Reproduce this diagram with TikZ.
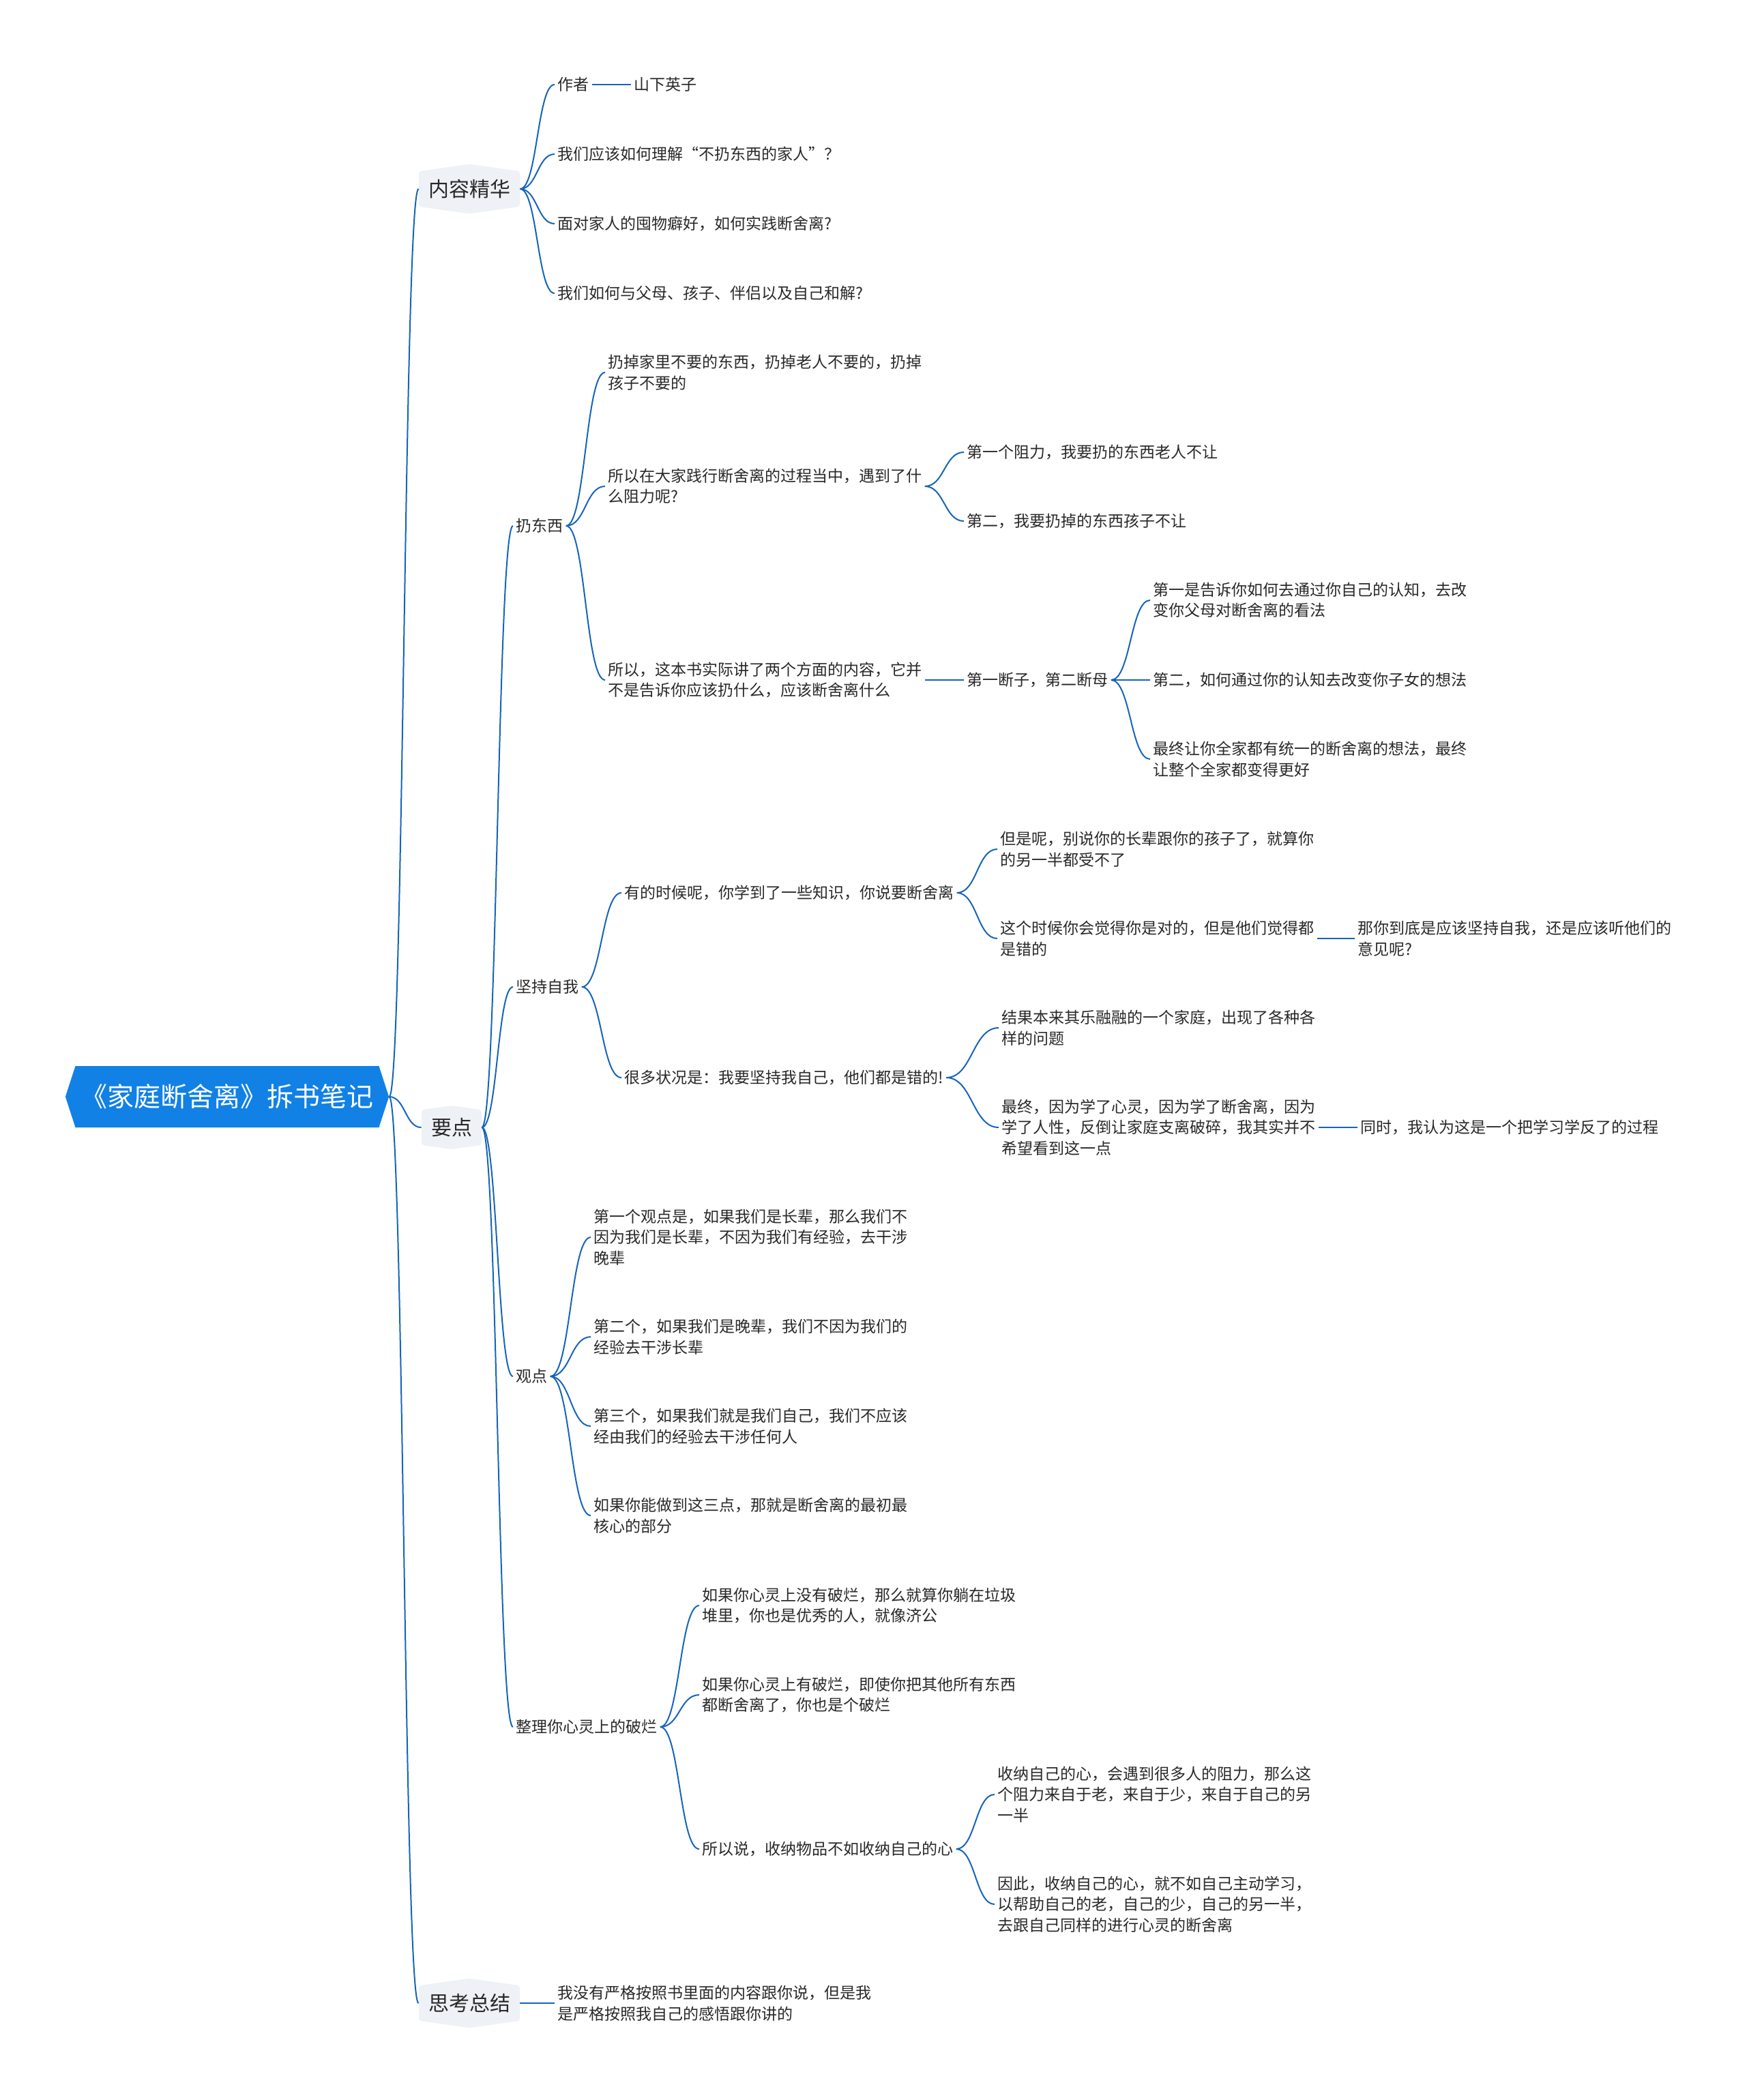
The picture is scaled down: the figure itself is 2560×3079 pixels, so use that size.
\documentclass[tikz,border=0pt]{standalone}
\usepackage{fontspec}
\setmainfont{Noto Sans CJK SC}
\usetikzlibrary{shapes.symbols,calc}

\definecolor{azul}{RGB}{17,129,230}
\definecolor{linea}{RGB}{22,100,185}
\definecolor{gris}{RGB}{238,241,245}
\definecolor{texto}{RGB}{40,40,40}

\tikzset{
  raiz/.style={shape=signal, signal to=west and east, signal pointer angle=144,
    fill=azul, text=white, font=\fontsize{19.5}{23}\selectfont,
    inner xsep=4pt, minimum height=45pt},
  tema/.style={shape=signal, signal to=north and south, signal pointer angle=164,
    fill=gris, text=texto, font=\fontsize{15}{18}\selectfont,
    inner xsep=7pt, inner ysep=6pt, rounded corners=2pt},
  hoja/.style={anchor=west, align=left, text=texto,
    font=\fontsize{11.5}{15.2}\selectfont, inner sep=2pt},
  rama/.style={draw=linea, line width=1pt}
}

\newcommand{\enlace}[2]{%
  \draw[rama] let \p1=(#1.east), \p2=(#2.west) in
    (\p1) .. controls ({0.5*\x1+0.5*\x2},\y1) and ({0.5*\x1+0.5*\x2},\y2) .. (\p2);}

\begin{document}
\begin{tikzpicture}[x=0.5pt,y=-0.5pt]
\useasboundingbox (0,0) rectangle (2560,3079);

% Raiz y temas
\node [raiz] (raiz) at (333,1608) {《家庭断舍离》拆书笔记};
\node [tema] (jh) at (688,277) {内容精华};
\node [tema] (yd) at (662,1653) {要点};
\node [tema] (zj) at (688,2937) {思考总结};

% Contenido
\node [hoja] (zz) at (813,124) {作者};
\node [hoja] (sx) at (925,124) {山下英子};
\node [hoja] (q1) at (813,226) {我们应该如何理解“不扔东西的家人”？};
\node [hoja] (q2) at (813,328) {面对家人的囤物癖好，如何实践断舍离?};
\node [hoja] (q3) at (813,430) {我们如何与父母、孩子、伴侣以及自己和解?};

% Puntos
\node [hoja] (rd) at (752,771) {扔东西};
\node [hoja] (jc) at (752,1447) {坚持自我};
\node [hoja] (gd) at (752,2018) {观点};
\node [hoja] (zl) at (752,2532) {整理你心灵上的破烂};

% Tirar cosas
\node [hoja] (rd1) at (887,546) {扔掉家里不要的东西，扔掉老人不要的，扔掉\\孩子不要的};
\node [hoja] (rd2) at (887,713) {所以在大家践行断舍离的过程当中，遇到了什\\么阻力呢?};
\node [hoja] (rd3) at (887,997) {所以，这本书实际讲了两个方面的内容，它并\\不是告诉你应该扔什么，应该断舍离什么};
\node [hoja] (zu1) at (1413,663) {第一个阻力，我要扔的东西老人不让};
\node [hoja] (zu2) at (1413,764) {第二，我要扔掉的东西孩子不让};
\node [hoja] (dz) at (1413,997) {第一断子，第二断母};
\node [hoja] (dz1) at (1686,880) {第一是告诉你如何去通过你自己的认知，去改\\变你父母对断舍离的看法};
\node [hoja] (dz2) at (1686,997) {第二，如何通过你的认知去改变你子女的想法};
\node [hoja] (dz3) at (1686,1113) {最终让你全家都有统一的断舍离的想法，最终\\让整个全家都变得更好};

% Mantenerse
\node [hoja] (jc1) at (911,1309) {有的时候呢，你学到了一些知识，你说要断舍离};
\node [hoja] (jc2) at (911,1580) {很多状况是：我要坚持我自己，他们都是错的!};
\node [hoja] (jc11) at (1462,1245) {但是呢，别说你的长辈跟你的孩子了，就算你\\的另一半都受不了};
\node [hoja] (jc12) at (1462,1376) {这个时候你会觉得你是对的，但是他们觉得都\\是错的};
\node [hoja] (jc13) at (1986,1376) {那你到底是应该坚持自我，还是应该听他们的\\意见呢?};
\node [hoja] (jc21) at (1464,1507) {结果本来其乐融融的一个家庭，出现了各种各\\样的问题};
\node [hoja] (jc22) at (1464,1653) {最终，因为学了心灵，因为学了断舍离，因为\\学了人性，反倒让家庭支离破碎，我其实并不\\希望看到这一点};
\node [hoja] (jc23) at (1990,1653) {同时，我认为这是一个把学习学反了的过程};

% Opiniones
\node [hoja] (gd1) at (866,1814) {第一个观点是，如果我们是长辈，那么我们不\\因为我们是长辈，不因为我们有经验，去干涉\\晚辈};
\node [hoja] (gd2) at (866,1960) {第二个，如果我们是晚辈，我们不因为我们的\\经验去干涉长辈};
\node [hoja] (gd3) at (866,2091) {第三个，如果我们就是我们自己，我们不应该\\经由我们的经验去干涉任何人};
\node [hoja] (gd4) at (866,2222) {如果你能做到这三点，那就是断舍离的最初最\\核心的部分};

% Ordenar
\node [hoja] (zp1) at (1025,2354) {如果你心灵上没有破烂，那么就算你躺在垃圾\\堆里，你也是优秀的人，就像济公};
\node [hoja] (zp2) at (1025,2485) {如果你心灵上有破烂，即使你把其他所有东西\\都断舍离了，你也是个破烂};
\node [hoja] (zp3) at (1025,2711) {所以说，收纳物品不如收纳自己的心};
\node [hoja] (sn1) at (1458,2631) {收纳自己的心，会遇到很多人的阻力，那么这\\个阻力来自于老，来自于少，来自于自己的另\\一半};
\node [hoja] (sn2) at (1458,2792) {因此，收纳自己的心，就不如自己主动学习，\\以帮助自己的老，自己的少，自己的另一半，\\去跟自己同样的进行心灵的断舍离};

% Resumen
\node [hoja] (zj1) at (813,2937) {我没有严格按照书里面的内容跟你说，但是我\\是严格按照我自己的感悟跟你讲的};

% Ramas
\enlace{raiz}{jh}
\enlace{raiz}{yd}
\enlace{raiz}{zj}
\enlace{jh}{zz}
\enlace{zz}{sx}
\enlace{jh}{q1}
\enlace{jh}{q2}
\enlace{jh}{q3}
\enlace{yd}{rd}
\enlace{yd}{jc}
\enlace{yd}{gd}
\enlace{yd}{zl}
\enlace{rd}{rd1}
\enlace{rd}{rd2}
\enlace{rd}{rd3}
\enlace{rd2}{zu1}
\enlace{rd2}{zu2}
\enlace{rd3}{dz}
\enlace{dz}{dz1}
\enlace{dz}{dz2}
\enlace{dz}{dz3}
\enlace{jc}{jc1}
\enlace{jc}{jc2}
\enlace{jc1}{jc11}
\enlace{jc1}{jc12}
\enlace{jc12}{jc13}
\enlace{jc2}{jc21}
\enlace{jc2}{jc22}
\enlace{jc22}{jc23}
\enlace{gd}{gd1}
\enlace{gd}{gd2}
\enlace{gd}{gd3}
\enlace{gd}{gd4}
\enlace{zl}{zp1}
\enlace{zl}{zp2}
\enlace{zl}{zp3}
\enlace{zp3}{sn1}
\enlace{zp3}{sn2}
\enlace{zj}{zj1}
\end{tikzpicture}
\end{document}
